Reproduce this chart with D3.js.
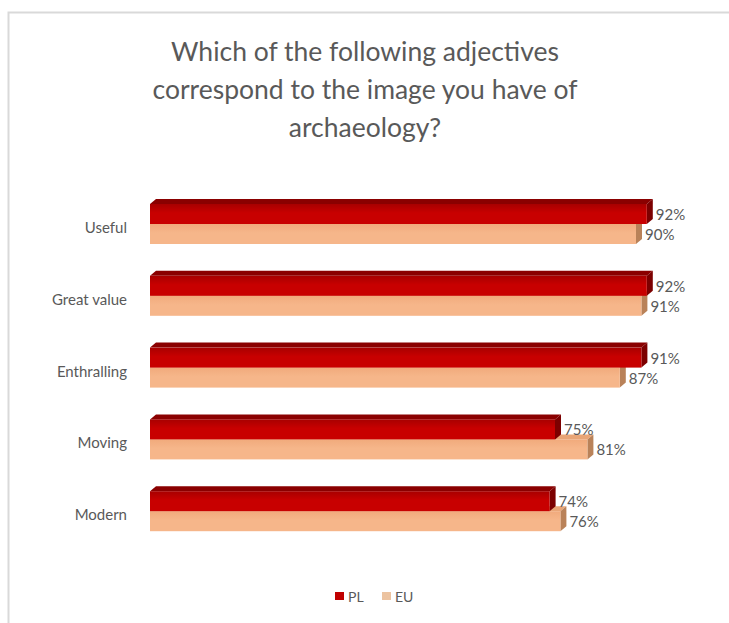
<!DOCTYPE html>
<html>
<head>
<meta charset="utf-8">
<script src="https://cdn.jsdelivr.net/npm/d3@7"></script>
<style>
  html, body { margin: 0; padding: 0; background: #ffffff; }
  svg { display: block; }
  text { font-family: Lato, "Open Sans", sans-serif; fill: #595959; }
</style>
</head>
<body>
<svg id="chart" width="729" height="623"></svg>
<script>
// Survey results: share of respondents choosing each adjective
const categories = ["Useful", "Great value", "Enthralling", "Moving", "Modern"];
const seriesNames = ["PL", "EU"];
const plValues = [92, 92, 91, 75, 74];
const euValues = [90, 91, 87, 81, 76];
const titleLines = ["Which of the following adjectives", "correspond to the image you have of", "archaeology?"];

const W = 729, H = 623;
const svg = d3.select("#chart");

// Chart frame
svg.append("rect")
  .attr("x", 8.5).attr("y", 12.5)
  .attr("width", W + 10).attr("height", H + 10)
  .attr("fill", "#ffffff")
  .attr("stroke", "#d9d9d9").attr("stroke-width", 2);

// Title
svg.append("g").selectAll("text")
  .data(titleLines).join("text")
  .attr("x", 365)
  .attr("y", (d, i) => 61 + i * 38)
  .attr("text-anchor", "middle")
  .attr("font-size", 26.5)
  .text(d => d);

// Scales
const x = d3.scaleLinear().domain([0, 100]).range([150, 690]);
const y = d3.scaleBand().domain(categories).range([188, 547]);
const ySub = d3.scaleBand().domain(seriesNames).range([16, 56]);

const colors = {
  PL: { front: "#c80000", frontTop: "#a80000", top: "#8a0000", side: "#7c0000", legend: "#c00000" },
  EU: { front: "#f6b68a", frontTop: "#f1aa7c", top: "#e9a576", side: "#b98259", legend: "#ecc3a0" }
};

const defs = svg.append("defs");
seriesNames.forEach(s => {
  const g = defs.append("linearGradient")
    .attr("id", "grad-" + s).attr("x1", 0).attr("y1", 0).attr("x2", 0).attr("y2", 1);
  g.append("stop").attr("offset", "0%").attr("stop-color", colors[s].frontTop);
  g.append("stop").attr("offset", "45%").attr("stop-color", colors[s].front);
  g.append("stop").attr("offset", "100%").attr("stop-color", colors[s].front);
});

// Depth offsets for the 3-D look
const dx = 6, dy = 5;

const rows = [];
categories.forEach((c, i) => {
  // EU first so the PL bar sits over the EU top face
  rows.push({ cat: c, series: "EU", value: euValues[i] });
  rows.push({ cat: c, series: "PL", value: plValues[i] });
});

const bars = svg.append("g").selectAll("g")
  .data(rows).join("g");

bars.each(function (d) {
  const g = d3.select(this);
  const x0 = x(0), x1 = x(d.value);
  const yt = y(d.cat) + ySub(d.series);
  const yb = yt + ySub.bandwidth();
  const c = colors[d.series];
  // top face
  g.append("path")
    .attr("d", `M${x0},${yt} L${x0 + dx},${yt - dy} L${x1 + dx},${yt - dy} L${x1},${yt} Z`)
    .attr("fill", c.top);
  // side face
  g.append("path")
    .attr("d", `M${x1},${yt} L${x1 + dx},${yt - dy} L${x1 + dx},${yb - dy} L${x1},${yb} Z`)
    .attr("fill", c.side);
  // front face
  g.append("rect")
    .attr("x", x0).attr("y", yt)
    .attr("width", x1 - x0).attr("height", yb - yt)
    .attr("fill", `url(#grad-${d.series})`);
});

// Value labels
svg.append("g").selectAll("text")
  .data(rows).join("text")
  .attr("x", d => x(d.value) + dx + 3)
  .attr("y", d => y(d.cat) + ySub(d.series) + ySub.bandwidth() / 2)
  .attr("dominant-baseline", "central")
  .attr("font-size", 15)
  .text(d => d.value + "%");

// Category labels
svg.append("g").selectAll("text")
  .data(categories).join("text")
  .attr("x", 127)
  .attr("y", d => y(d) + 39)
  .attr("text-anchor", "end")
  .attr("dominant-baseline", "central")
  .attr("font-size", 15)
  .text(d => d);

// Legend
const legend = svg.append("g").selectAll("g")
  .data(seriesNames).join("g")
  .attr("transform", (d, i) => `translate(${335 + i * 47},596)`);
legend.append("rect")
  .attr("x", 0).attr("y", -4)
  .attr("width", 9).attr("height", 8)
  .attr("fill", d => colors[d].legend);
legend.append("text")
  .attr("x", 13).attr("y", 0)
  .attr("dominant-baseline", "central")
  .attr("font-size", 14)
  .text(d => d);
</script>
</body>
</html>
